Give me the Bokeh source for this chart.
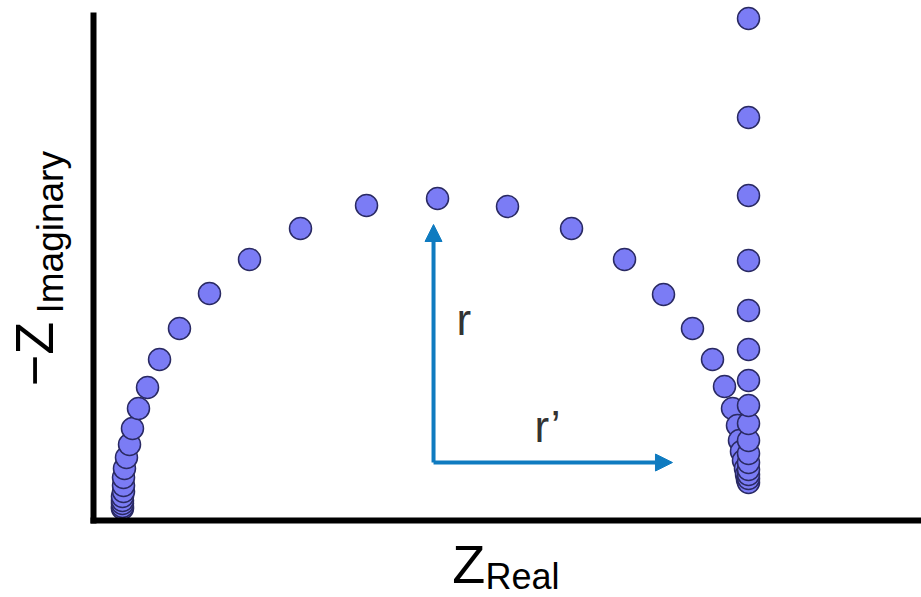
import numpy as np
from bokeh.plotting import figure
from bokeh.models import (ColumnDataSource, Arrow, NormalHead, FixedTicker, Range1d,
                          LinearAxis)
from bokeh.core.properties import value
from bokeh.embed import file_html
from bokeh.resources import INLINE

# Nyquist data (high frequency -> low frequency), arbitrary units
z_real = [4.20, 4.20, 4.20, 4.20, 4.20, 4.35, 4.35, 4.35, 4.49, 4.78,
          5.22, 5.65, 6.52, 7.83, 9.57, 12.46, 16.81, 22.61, 30.00, 39.57,
          49.86, 60.00, 69.28, 76.96, 82.61, 86.81, 89.71, 91.45, 92.61, 93.33,
          93.62, 93.91, 94.20, 94.49, 94.64, 94.78, 94.93,
          94.93, 94.93, 94.93, 94.93, 94.93, 94.93, 94.93, 94.93, 94.93,
          94.93, 94.93, 94.93, 94.93, 94.93, 94.93]
z_imag_neg = [2.31, 2.69, 3.27, 3.85, 4.62, 5.58, 6.73, 8.27, 10.00, 12.12,
              14.62, 17.69, 21.54, 25.58, 30.96, 36.92, 43.65, 50.19, 56.15, 60.58,
              61.92, 60.38, 56.15, 50.19, 43.46, 36.92, 30.96, 25.77, 21.54, 18.27,
              15.38, 13.27, 11.54, 10.00, 8.85, 7.88, 7.31,
              8.08, 8.85, 9.81, 11.15, 12.88, 15.38, 18.65, 22.12, 26.92,
              32.88, 40.38, 50.00, 62.50, 77.50, 96.54]

# annotation geometry (data units)
r_origin = (49.28, 11.15)
r_top = 56.92
r_prime_end = 83.91

W, H = 921, 597
p = figure(width=W, height=H, output_backend="svg", toolbar_location=None,
           x_range=Range1d(-13.478, 120), y_range=Range1d(-14.808, 100),
           x_axis_location=None, y_axis_location=None,
           min_border_left=0, min_border_right=0, min_border_top=0, min_border_bottom=0)
p.outline_line_color = None
p.xgrid.visible = False
p.ygrid.visible = False
p.background_fill_color = "white"
p.border_fill_color = "white"

xax = LinearAxis(fixed_location=0, bounds=(-0.45, 120))
yax = LinearAxis(fixed_location=0, bounds=(-0.6, 97.7))
for ax in (xax, yax):
    ax.ticker = FixedTicker(ticks=[])
    ax.axis_line_width = 6
    ax.axis_line_color = "black"
    ax.major_tick_line_color = None
    ax.minor_tick_line_color = None
    ax.major_label_text_font_size = "0px"
p.add_layout(xax, "below")
p.add_layout(yax, "left")

src = ColumnDataSource(dict(x=z_real, y=z_imag_neg))
p.scatter("x", "y", source=src, size=22, marker="circle",
          fill_color="#7b7cf5", line_color="#2a2a63", line_width=1.5)

blue = "#0f7bc0"
p.add_layout(Arrow(end=NormalHead(size=17, fill_color=blue, line_color=blue),
                   x_start=r_origin[0], y_start=r_origin[1], x_end=r_origin[0], y_end=r_top,
                   line_color=blue, line_width=4))
p.add_layout(Arrow(end=NormalHead(size=17, fill_color=blue, line_color=blue),
                   x_start=r_origin[0], y_start=r_origin[1], x_end=r_prime_end, y_end=r_origin[1],
                   line_color=blue, line_width=4))

font = value("Liberation Sans")

def txt(x, y, s, size, color="black", angle=0.0):
    p.text(x=[x], y=[y], text=[s], text_font=font, text_font_size=value(size),
           text_color=color, text_baseline="alphabetic", text_align="left", angle=angle)

txt(52.6, 38.6, "r", "44px", "#333333")
txt(63.9, 18.0, "r\u2019", "44px", "#333333")

# axis titles
txt(52.0, -8.4, "Z", "54px")
txt(56.8, -10.8, "Real", "36px")
txt(-8.6, 25.8, "\u2212Z", "54px", angle=np.pi / 2)
txt(-6.3, 39.8, "Imaginary", "37px", angle=np.pi / 2)

open("out.html", "w").write(file_html(p, INLINE))
